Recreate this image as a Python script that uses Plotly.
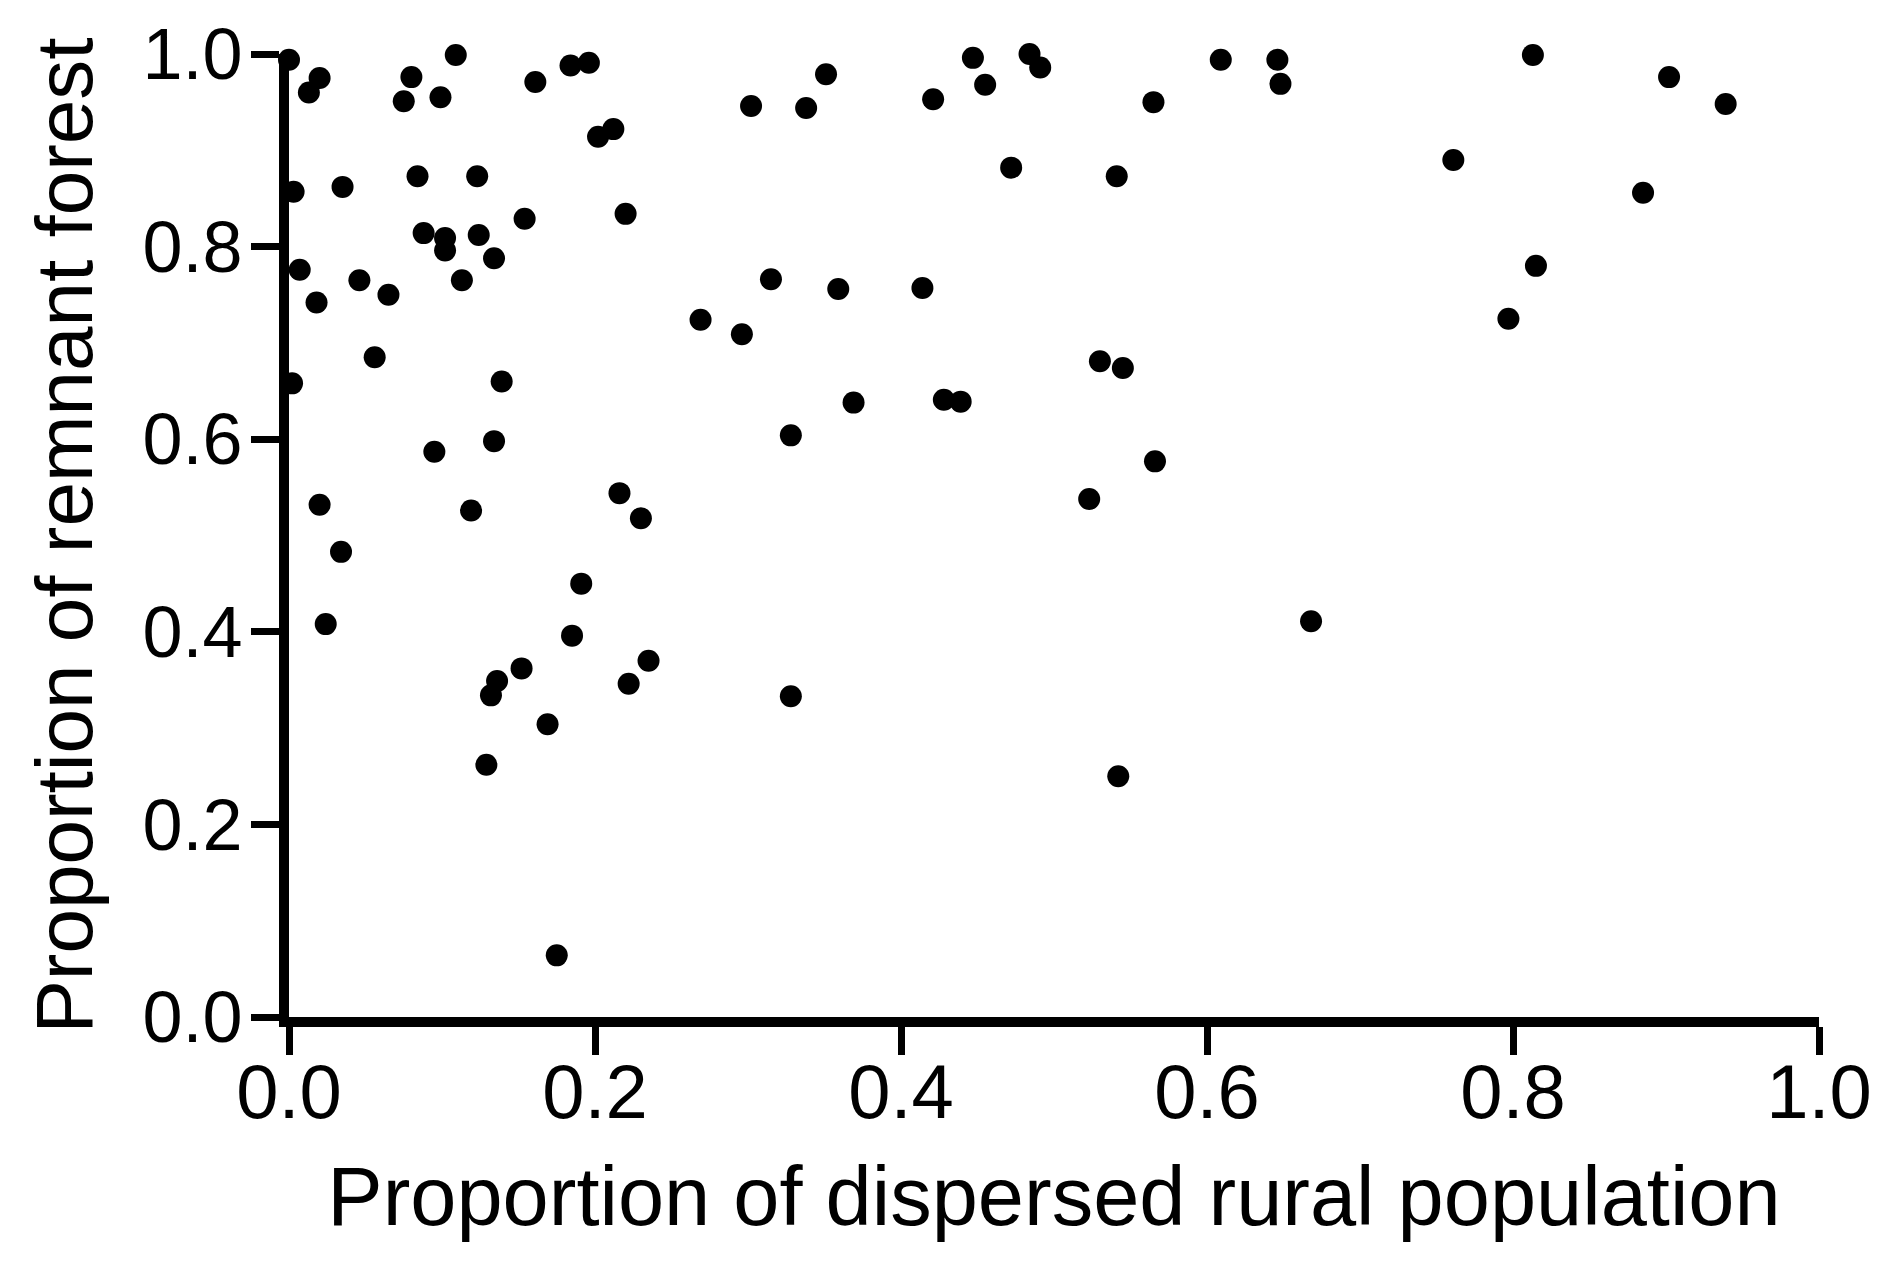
"""
Scatter: remnant forest vs dispersed rural population.
"""
import plotly.graph_objects as go

# --- data -------------------------------------------------------------------
dispersed_rural = [
    0.000, 0.020, 0.013, 0.003, 0.007, 0.018, 0.002, 0.035, 0.046, 0.065,
    0.056, 0.020, 0.034, 0.024, 0.080, 0.075, 0.099, 0.109, 0.084, 0.088,
    0.102, 0.102, 0.123, 0.124, 0.134, 0.113, 0.139, 0.095, 0.134, 0.119,
    0.161, 0.184, 0.196, 0.202, 0.212, 0.154, 0.220, 0.216, 0.230, 0.191,
    0.185, 0.235, 0.222, 0.152, 0.136, 0.132, 0.169, 0.129, 0.175, 0.302,
    0.338, 0.351, 0.315, 0.269, 0.296, 0.359, 0.369, 0.328, 0.328, 0.421,
    0.447, 0.455, 0.484, 0.491, 0.472, 0.414, 0.428, 0.439, 0.565, 0.541,
    0.530, 0.545, 0.566, 0.523, 0.542, 0.609, 0.646, 0.648, 0.668, 0.761,
    0.813, 0.902, 0.939, 0.885, 0.815, 0.797,
]
remnant_forest = [
    0.994, 0.975, 0.960, 0.857, 0.776, 0.742, 0.658, 0.862, 0.765, 0.750,
    0.685, 0.532, 0.483, 0.408, 0.976, 0.951, 0.955, 0.999, 0.873, 0.814,
    0.809, 0.796, 0.873, 0.812, 0.788, 0.765, 0.660, 0.587, 0.598, 0.526,
    0.971, 0.988, 0.991, 0.914, 0.922, 0.829, 0.834, 0.544, 0.518, 0.450,
    0.396, 0.370, 0.346, 0.362, 0.349, 0.334, 0.304, 0.262, 0.064, 0.946,
    0.944, 0.979, 0.766, 0.724, 0.709, 0.756, 0.638, 0.604, 0.333, 0.953,
    0.996, 0.968, 1.000, 0.986, 0.882, 0.757, 0.641, 0.639, 0.950, 0.873,
    0.681, 0.674, 0.577, 0.538, 0.250, 0.994, 0.994, 0.969, 0.411, 0.890,
    0.999, 0.976, 0.948, 0.856, 0.780, 0.725,
]
tick_vals = [0.0, 0.2, 0.4, 0.6, 0.8, 1.0]
tick_text = ["0.0", "0.2", "0.4", "0.6", "0.8", "1.0"]

FONT = "Liberation Sans, Arial, sans-serif"

fig = go.Figure(
    go.Scatter(
        x=dispersed_rural, y=remnant_forest,
        mode="markers",
        marker=dict(color="black", size=22, line=dict(width=0)),
        cliponaxis=False,
        showlegend=False,
    )
)

axis_common = dict(
    range=[0, 1],
    tickvals=tick_vals,
    ticktext=tick_text,
    showgrid=False,
    zeroline=False,
    showline=True,
    linecolor="black",
    linewidth=10,
    ticks="outside",
    ticklen=28,
    tickwidth=7,
    tickcolor="black",
    ticklabeloverflow="allow",
)

fig.update_xaxes(
    **axis_common,
    tickfont=dict(family=FONT, size=76, color="black"),
    ticklabelstandoff=-28,
    title=dict(text="Proportion of dispersed rural population",
               font=dict(family=FONT, size=83, color="black"), standoff=38),
)
fig.update_yaxes(
    **axis_common,
    tickfont=dict(family=FONT, size=72, color="black"),
    ticklabelstandoff=-6,
    title=dict(text="Proportion of remnant forest",
               font=dict(family=FONT, size=80, color="black"), standoff=28),
)

# the page body adds an 8 px margin, so the figure is 16 px smaller
fig.update_layout(
    width=1864, height=1262,
    paper_bgcolor="white", plot_bgcolor="white",
    margin=dict(l=281, r=53, t=46, b=253, autoexpand=False),
)

fig.write_html("out.html")
